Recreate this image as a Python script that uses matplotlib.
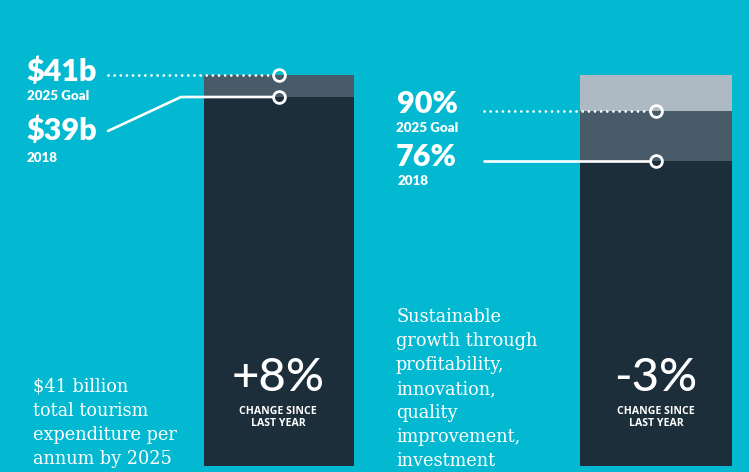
import matplotlib
matplotlib.use("Agg")
import matplotlib.pyplot as plt

# ---- data ----
spend_values = [39, 41]          # 2018, 2025 goal ($b)
spend_labels = ["$39b", "$41b"]
spend_sub = ["2018", "2025 Goal"]
spend_change = "+8%"

share_values = [76, 90, 100]     # 2018, 2025 goal, full scale (%)
share_labels = ["76%", "90%"]
share_sub = ["2018", "2025 Goal"]
share_change = "-3%"

left_desc = ["$41 billion", "total tourism", "expenditure per", "annum by 2025"]
right_desc = ["Sustainable", "growth through", "profitability,", "innovation,",
              "quality", "improvement,", "investment"]

BG = "#02B9D1"
DARK = "#1C2E3A"
MID = "#475C68"
LIGHT = "#ADBAC3"
W, H = 749, 472

fig = plt.figure(figsize=(W / 100, H / 100), dpi=100)
fig.patch.set_facecolor(BG)

# overlay axes in pixel coordinates for text and connectors
bg = fig.add_axes([0, 0, 1, 1])
bg.set_xlim(0, W)
bg.set_ylim(H, 0)
bg.axis("off")
bg.set_zorder(3)
bg.patch.set_alpha(0)


def bar_axes(x0, x1, y_top, y_bot):
    return fig.add_axes([x0 / W, (H - y_bot) / H, (x1 - x0) / W, (y_bot - y_top) / H])


# left bar: stacked dark (2018) + mid (goal)
axL = bar_axes(204, 354, 75, 466)
lo_L = 5.45
axL.set_ylim(lo_L, spend_values[1])
axL.set_xlim(0, 1)
axL.bar(0.5, spend_values[0] - lo_L, bottom=lo_L, width=1, color=DARK)
axL.bar(0.5, spend_values[1] - spend_values[0], bottom=spend_values[0], width=1, color=MID)
axL.axis("off")

# right bar: dark (2018) + mid (goal) + light (to 100)
axR = bar_axes(580, 732, 75, 466)
lo_R = -8.5
axR.set_ylim(lo_R, share_values[2])
axR.set_xlim(0, 1)
axR.bar(0.5, share_values[0] - lo_R, bottom=lo_R, width=1, color=DARK)
axR.bar(0.5, share_values[1] - share_values[0], bottom=share_values[0], width=1, color=MID)
axR.bar(0.5, share_values[2] - share_values[1], bottom=share_values[1], width=1, color=LIGHT)
axR.axis("off")


def to_px(ax, v):
    disp = ax.transData.transform((0.5, v))
    return bg.transData.inverted().transform(disp)


dot_style = dict(color="white", lw=2.0, linestyle=(0, (0.01, 2.2)),
                 dash_capstyle="round", solid_capstyle="round")
solid_style = dict(color="white", lw=1.9, solid_capstyle="round")
circ_style = dict(marker="o", ms=8.5, mfc="none", mec="white", mew=2.0, zorder=5)

# left connectors
gx, gy = to_px(axL, spend_values[1])
bg.plot([108, gx - 6], [gy, gy], **dot_style)
bg.plot([gx], [gy], **circ_style)
cx, cy = to_px(axL, spend_values[0])
bg.plot([108, 181, cx - 6], [131, cy, cy], **solid_style)
bg.plot([cx], [cy], **circ_style)

# right connectors
gx, gy = to_px(axR, share_values[1])
bg.plot([484, gx - 6], [gy, gy], **dot_style)
bg.plot([gx], [gy], **circ_style)
cx, cy = to_px(axR, share_values[0])
bg.plot([484, cx - 6], [cy, cy], **solid_style)
bg.plot([cx], [cy], **circ_style)

big = dict(color="white", fontsize=22, fontweight="heavy", family="Lato", va="center")
small = dict(color="white", fontsize=9.6, fontweight="heavy", family="Lato", va="center")

bg.text(26, 72, spend_labels[1], ha="left", **big)
bg.text(27, 96, spend_sub[1], ha="left", **small)
bg.text(26, 131, spend_labels[0], ha="left", **big)
bg.text(27, 158, spend_sub[0], ha="left", **small)

bg.text(427, 104, share_labels[1], ha="center", **big)
bg.text(427, 128, share_sub[1], ha="center", **small)
bg.text(426, 157, share_labels[0], ha="center", **big)
bg.text(398, 181, share_sub[0], ha="left", **small)

# change figures inside bars
for xc, txt in [(278, spend_change), (656, share_change)]:
    bg.text(xc, 378, txt, ha="center", va="center", color="white",
            fontsize=34, family="Lato", fontweight="medium")
    bg.text(xc, 411, "CHANGE SINCE", ha="center", va="center", color="white",
            fontsize=7.6, family="Open Sans", fontweight="bold")
    bg.text(xc, 423, "LAST YEAR", ha="center", va="center", color="white",
            fontsize=7.6, family="Open Sans", fontweight="bold")

# descriptions
for i, line in enumerate(left_desc):
    bg.text(33, 387 + 24 * i, line, ha="left", va="center", color="white",
            fontsize=12.8, family="DejaVu Serif", fontweight="light")
for i, line in enumerate(right_desc):
    bg.text(396, 317 + 24 * i, line, ha="left", va="center", color="white",
            fontsize=12.8, family="DejaVu Serif", fontweight="light")

fig.savefig("out.png", dpi=100, facecolor=BG)
